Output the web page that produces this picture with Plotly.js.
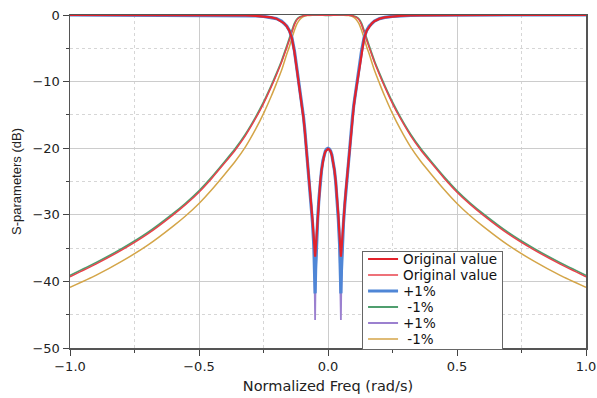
<!DOCTYPE html>
<html>
<head>
<meta charset="utf-8">
<script src="https://cdn.plot.ly/plotly-3.0.1.min.js"></script>
<style>html,body{margin:0;padding:0;background:#fff;}#chart{width:597px;height:398px;}</style>
</head>
<body>
<div id="chart"></div>
<script>
// Normalized frequency grids (rad/s)
var freqS11 = [-1.0,-0.7,-0.5,-0.4,-0.36,-0.32,-0.28,-0.25,-0.22,-0.2,-0.18,-0.17,-0.16,-0.15,-0.14,-0.13,-0.12,-0.115,-0.11,-0.105,-0.1,-0.095,-0.09,-0.085,-0.08,-0.075,-0.07,-0.065,-0.06,-0.055,-0.052,-0.05,-0.048,-0.045,-0.04,-0.035,-0.03,-0.025,-0.02,-0.015,-0.01,-0.005,0,0.005,0.01,0.015,0.02,0.025,0.03,0.035,0.04,0.045,0.048,0.05,0.052,0.055,0.06,0.065,0.07,0.075,0.08,0.085,0.09,0.095,0.1,0.105,0.11,0.115,0.12,0.13,0.14,0.15,0.16,0.17,0.18,0.2,0.22,0.25,0.28,0.32,0.36,0.4,0.5,0.7,1.0];

var freqS21 = [-1.0,-0.9,-0.8,-0.7,-0.6,-0.55,-0.5,-0.45,-0.4,-0.36,-0.32,-0.28,-0.25,-0.22,-0.2,-0.18,-0.16,-0.15,-0.14,-0.13,-0.12,-0.11,-0.1,-0.09,-0.08,-0.06,-0.04,-0.02,0,0.02,0.04,0.06,0.08,0.09,0.1,0.11,0.12,0.13,0.14,0.15,0.16,0.18,0.2,0.22,0.25,0.28,0.32,0.36,0.4,0.45,0.5,0.55,0.6,0.7,0.8,0.9,1.0];

// Reflection (dB): original, +1%, +1%
var s11Original = [0,-0.003,-0.01,-0.025,-0.04,-0.07,-0.12,-0.2,-0.36,-0.55,-0.94,-1.25,-1.7,-2.35,-3.5,-5.6,-8.4,-9.7,-10.9,-12.2,-13.7,-15.5,-17.4,-19.5,-21.7,-23.8,-26.0,-28.3,-30.8,-33.5,-35.4,-36.3,-35.3,-33.3,-30.0,-27.2,-25.0,-23.3,-22.0,-21.1,-20.5,-20.2,-20.1,-20.2,-20.5,-21.1,-22.0,-23.3,-25.0,-27.2,-30.0,-33.3,-35.3,-36.3,-35.4,-33.5,-30.8,-28.3,-26.0,-23.8,-21.7,-19.5,-17.4,-15.5,-13.7,-12.2,-10.9,-9.7,-8.4,-5.6,-3.5,-2.35,-1.7,-1.25,-0.94,-0.55,-0.36,-0.2,-0.12,-0.07,-0.04,-0.025,-0.01,-0.003,0];

var s11PlusA = [0,-0.003,-0.01,-0.025,-0.04,-0.07,-0.12,-0.2,-0.35,-0.54,-0.92,-1.22,-1.65,-2.3,-3.4,-5.4,-8.2,-9.5,-10.7,-12.0,-13.5,-15.3,-17.2,-19.4,-21.6,-23.8,-26.1,-28.5,-31.2,-34.6,-38.4,-41.8,-38.2,-34.5,-30.6,-27.5,-25.1,-23.3,-21.9,-21.0,-20.4,-20.1,-20.0,-20.1,-20.4,-21.0,-21.9,-23.3,-25.1,-27.5,-30.6,-34.5,-38.2,-41.8,-38.4,-34.6,-31.2,-28.5,-26.1,-23.8,-21.6,-19.4,-17.2,-15.3,-13.5,-12.0,-10.7,-9.5,-8.2,-5.4,-3.4,-2.3,-1.65,-1.22,-0.92,-0.54,-0.35,-0.2,-0.12,-0.07,-0.04,-0.025,-0.01,-0.003,0];

var s11PlusB = [0,-0.003,-0.01,-0.025,-0.04,-0.07,-0.12,-0.2,-0.36,-0.55,-0.94,-1.25,-1.7,-2.35,-3.5,-5.6,-8.4,-9.7,-10.9,-12.2,-13.7,-15.5,-17.4,-19.5,-21.7,-23.9,-26.1,-28.5,-31.3,-35.0,-39.6,-45.8,-39.5,-35.2,-30.9,-27.7,-25.3,-23.5,-22.1,-21.1,-20.5,-20.2,-20.1,-20.2,-20.5,-21.1,-22.1,-23.5,-25.3,-27.7,-30.9,-35.2,-39.5,-45.8,-39.6,-35.0,-31.3,-28.5,-26.1,-23.9,-21.7,-19.5,-17.4,-15.5,-13.7,-12.2,-10.9,-9.7,-8.4,-5.6,-3.5,-2.35,-1.7,-1.25,-0.94,-0.55,-0.36,-0.2,-0.12,-0.07,-0.04,-0.025,-0.01,-0.003,0];

// Transmission (dB): original, -1%, -1%
var s21Original = [-39.3,-37.4,-35.3,-32.9,-30.0,-28.4,-26.6,-24.5,-22.2,-20.3,-18.1,-15.5,-13.3,-10.8,-9.0,-7.1,-4.9,-3.8,-2.6,-1.45,-0.7,-0.36,-0.2,-0.08,-0.04,-0.01,-0.01,-0.03,-0.04,-0.03,-0.01,-0.01,-0.04,-0.08,-0.2,-0.36,-0.7,-1.45,-2.6,-3.8,-4.9,-7.1,-9.0,-10.8,-13.3,-15.5,-18.1,-20.3,-22.2,-24.5,-26.6,-28.4,-30.0,-32.9,-35.3,-37.4,-39.3];

var s21MinusA = [-39.1,-37.2,-35.1,-32.7,-29.8,-28.2,-26.4,-24.3,-22.0,-20.1,-17.9,-15.3,-13.1,-10.6,-8.8,-6.9,-4.7,-3.55,-2.35,-1.25,-0.6,-0.3,-0.15,-0.06,-0.03,-0.01,-0.01,-0.03,-0.04,-0.03,-0.01,-0.01,-0.03,-0.06,-0.15,-0.3,-0.6,-1.25,-2.35,-3.55,-4.7,-6.9,-8.8,-10.6,-13.1,-15.3,-17.9,-20.1,-22.0,-24.3,-26.4,-28.2,-29.8,-32.7,-35.1,-37.2,-39.1];

var s21MinusB = [-40.9,-39.1,-37.0,-34.6,-31.7,-30.1,-28.3,-26.2,-23.9,-22.0,-19.8,-17.1,-14.8,-12.2,-10.3,-8.3,-5.9,-4.8,-3.5,-2.3,-1.3,-0.7,-0.35,-0.15,-0.08,-0.02,-0.01,-0.03,-0.04,-0.03,-0.01,-0.02,-0.08,-0.15,-0.35,-0.7,-1.3,-2.3,-3.5,-4.8,-5.9,-8.3,-10.3,-12.2,-14.8,-17.1,-19.8,-22.0,-23.9,-26.2,-28.3,-30.1,-31.7,-34.6,-37.0,-39.1,-40.9];

var legendNames = ['Original value', 'Original value', '+1%', '\u00a0-1%', '+1%', '\u00a0-1%'];
var xTickVals = [-1, -0.5, 0, 0.5, 1];
var yTickVals = [-50, -40, -30, -20, -10, 0];

var traces = [
  {x: freqS21, y: s21MinusB, name: legendNames[5], legendrank: 6, mode: 'lines',
   line: {color: '#d4a548', width: 1.5, shape: 'spline', smoothing: 0.6}},
  {x: freqS21, y: s21MinusA, name: legendNames[3], legendrank: 4, mode: 'lines',
   line: {color: '#4f9e6e', width: 1.8, shape: 'spline', smoothing: 0.6}},
  {x: freqS21, y: s21Original, name: legendNames[1], legendrank: 2, mode: 'lines',
   line: {color: '#e8424c', width: 1.5, shape: 'spline', smoothing: 0.6}},
  {x: freqS11, y: s11PlusB, name: legendNames[4], legendrank: 5, mode: 'lines',
   line: {color: '#9b80cf', width: 1.8}},
  {x: freqS11, y: s11PlusA, name: legendNames[2], legendrank: 3, mode: 'lines',
   line: {color: '#4f86d6', width: 3.2}},
  {x: freqS11, y: s11Original, name: legendNames[0], legendrank: 1, mode: 'lines',
   line: {color: '#e3222b', width: 2.2}}
];

var axisCommon = {
  ticks: 'outside', ticklen: 6, tickwidth: 1, tickcolor: '#444',
  showline: true, linecolor: '#555', linewidth: 1.5, mirror: true,
  showgrid: true, gridcolor: '#cccccc', gridwidth: 1, zeroline: false,
  tickfont: {family: 'DejaVu Sans, sans-serif', size: 13, color: '#222'}
};

var layout = {
  width: 597, height: 398,
  margin: {l: 70, r: 11, t: 15, b: 50},
  paper_bgcolor: '#ffffff', plot_bgcolor: '#ffffff',
  font: {family: 'DejaVu Sans, sans-serif', size: 13, color: '#222'},
  showlegend: true,
  legend: {x: 0.566, y: 0, xanchor: 'left', yanchor: 'bottom', bgcolor: '#ffffff',
           bordercolor: '#666', borderwidth: 1, font: {size: 13.5, color: '#111'},
           tracegroupgap: 0},
  xaxis: Object.assign({}, axisCommon, {
    range: [-1, 1], tickvals: xTickVals, tickformat: '.1f',
    minor: {dtick: 0.25, tick0: 0, ticks: 'outside', ticklen: 3, tickcolor: '#444',
            showgrid: true, gridcolor: '#d6d6d6', griddash: 'dot', gridwidth: 1},
    title: {text: 'Normalized Freq (rad/s)', font: {size: 14.5, color: '#222'}, standoff: 8}
  }),
  yaxis: Object.assign({}, axisCommon, {
    range: [-50, 0], tickvals: yTickVals,
    minor: {dtick: 5, tick0: 0, ticks: 'outside', ticklen: 3, tickcolor: '#444',
            showgrid: true, gridcolor: '#d6d6d6', griddash: 'dot', gridwidth: 1},
    title: {text: 'S-parameters (dB)', font: {family: 'Liberation Sans, Arial, sans-serif', size: 13, color: '#222'}, standoff: 8}
  })
};

var gd = document.getElementById('chart');
Plotly.newPlot(gd, traces, layout, {displayModeBar: false, staticPlot: true}).then(function () {
  // tighten legend row spacing to match the reference (16px rows)
  var leg = gd.querySelector('.legend');
  if (!leg) return;
  var items = leg.querySelectorAll('.traces');
  var rowH = 16, firstY = 8.5, boxH = 98;
  items.forEach(function (it, i) {
    var tr = it.getAttribute('transform') || '';
    var m = /translate\(\s*([-\d.e]+)[ ,]+([-\d.e]+)\s*\)/.exec(tr);
    var x0 = m ? m[1] : 1;
    it.setAttribute('transform', 'translate(' + x0 + ',' + (firstY + i * rowH) + ')');
  });
  var bg = leg.querySelector('rect.bg');
  if (bg) bg.setAttribute('height', boxH);
  var lt = leg.getAttribute('transform') || '';
  var lm = /translate\(\s*([-\d.e]+)[ ,]+([-\d.e]+)\s*\)/.exec(lt);
  if (lm) {
    var plotBottom = layout.height - layout.margin.b;
    leg.setAttribute('transform', 'translate(' + lm[1] + ',' + (plotBottom - boxH + 0.5) + ')');
  }
});
</script>
</body>
</html>
